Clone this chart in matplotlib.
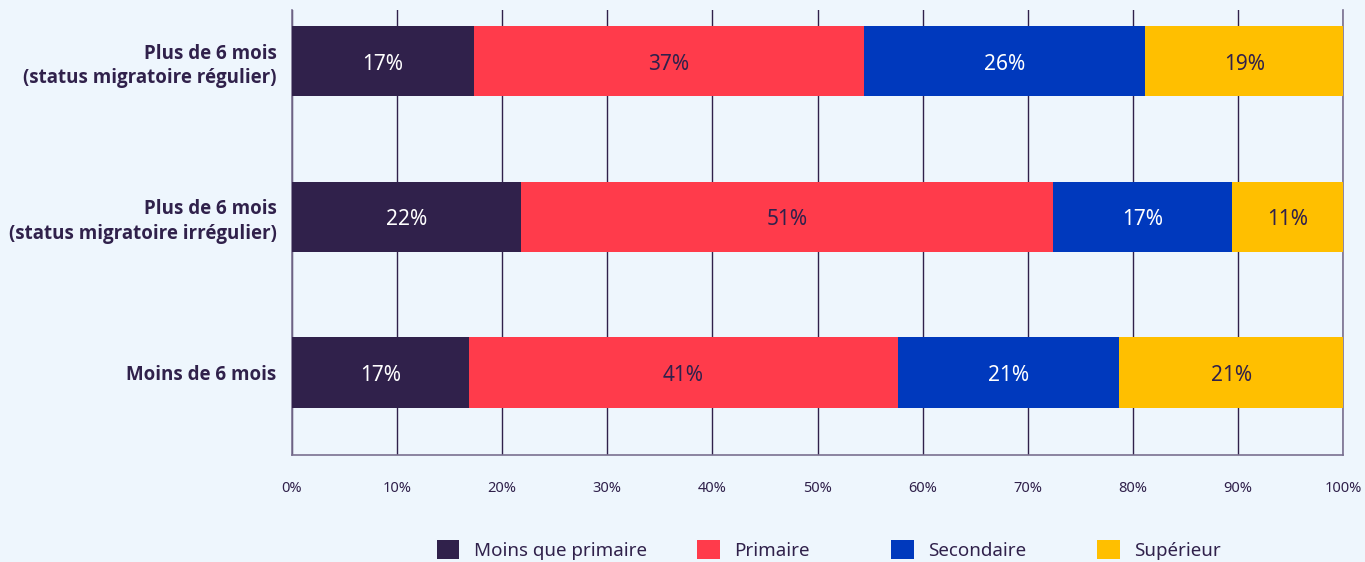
import matplotlib
matplotlib.use("Agg")
import matplotlib.pyplot as plt
from matplotlib.patches import Patch
from matplotlib import font_manager
import numpy as np

plt.rcParams['font.family'] = ['Noto Sans', 'DejaVu Sans']

categories = ["Moins de 6 mois",
              "Plus de 6 mois\n(status migratoire irrégulier)",
              "Plus de 6 mois\n(status migratoire régulier)"]
series = ["Moins que primaire", "Primaire", "Secondaire", "Supérieur"]
moins_que_primaire = [16.8, 21.8, 17.3]
primaire = [40.9, 50.6, 37.1]
secondaire = [21.0, 17.0, 26.8]
superieur = [21.3, 10.6, 18.8]
labels_moins = ["17%", "22%", "17%"]
labels_primaire = ["41%", "51%", "37%"]
labels_secondaire = ["21%", "17%", "26%"]
labels_superieur = ["21%", "11%", "19%"]
xticks = [0, 10, 20, 30, 40, 50, 60, 70, 80, 90, 100]
xticklabels = [f"{v}%" for v in xticks]

colors = ["#30214b", "#ff3b4b", "#0039bd", "#ffbf00"]
text_colors = ["white", "#30214b", "white", "#30214b"]
dark = "#30214b"
bg = "#eef6fd"

# pick a family with a bold face for the category labels
bold_family = 'Noto Sans'
try:
    f = font_manager.findfont(font_manager.FontProperties(family='Noto Sans', weight='bold'),
                              fallback_to_default=False)
    if 'bold' not in f.lower():
        bold_family = 'Open Sans'
except Exception:
    bold_family = 'Open Sans'

fig = plt.figure(figsize=(13.65, 5.62), dpi=100)
fig.patch.set_facecolor(bg)
ax = fig.add_axes([292/1365, 1-455/562, 1051/1365, 445/562])
ax.set_facecolor(bg)

y = np.arange(len(categories))
data = [moins_que_primaire, primaire, secondaire, superieur]
labs = [labels_moins, labels_primaire, labels_secondaire, labels_superieur]
left = np.zeros(len(categories))
for vals, lab, c, tc, name in zip(data, labs, colors, text_colors, series):
    vals = np.array(vals)
    ax.barh(y, vals, left=left, height=0.45, color=c, zorder=3, label=name)
    for yi, (l, v, t) in enumerate(zip(left, vals, lab)):
        ax.text(l + v/2, yi - 0.02, t, ha='center', va='center', color=tc,
                fontsize=15, zorder=4)
    left = left + vals

ax.set_xlim(0, 100)
ax.set_ylim(-0.53, 2.328)
ax.set_xticks(xticks)
ax.set_xticklabels(xticklabels, fontsize=10.5, color=dark)
ax.set_yticks(y)
ax.set_yticklabels(categories, fontsize=13.5, color=dark, linespacing=1.3)
for t in ax.get_yticklabels():
    t.set_fontfamily(bold_family)
    t.set_fontweight('bold')
ax.tick_params(axis='both', length=0)
ax.tick_params(axis='x', pad=19)
ax.tick_params(axis='y', pad=11)
ax.xaxis.grid(True, color=dark, linewidth=1.0, zorder=1)
ax.yaxis.grid(False)
ax.spines['top'].set_visible(False)
for s in ['left', 'bottom', 'right']:
    ax.spines[s].set_color("#7a7090")
    ax.spines[s].set_linewidth(1.2)

legend_x = [437, 697, 891, 1097]
for name, c, lx in zip(series, colors, legend_x):
    leg = fig.legend([Patch(facecolor=c, edgecolor='none')], [name],
                     loc='center left', bbox_to_anchor=(lx/1365, 1-550/562),
                     frameon=False, fontsize=13.5, labelcolor=dark,
                     handlelength=1.2, handleheight=1.2, handletextpad=0.8,
                     borderpad=0, borderaxespad=0)

fig.savefig("out.png", dpi=100, facecolor=bg)
